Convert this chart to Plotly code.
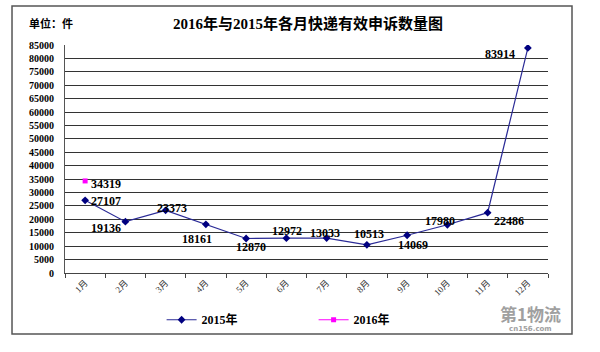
import plotly.graph_objects as go

months = ["1月", "2月", "3月", "4月", "5月", "6月", "7月", "8月", "9月", "10月", "11月", "12月"]
values_2015 = [27107, 19136, 23373, 18161, 12870, 12972, 13033, 10513, 14069, 17980, 22486, 83914]
months_2016 = ["1月"]
values_2016 = [34319]
y_ticks = list(range(0, 85001, 5000))

title_text = "2016年与2015年各月快递有效申诉数量图"
unit_text = "单位：件"

# label pixel offsets (style only)
offsets_2015 = [(21, -1), (-19, -6), (6, 2), (-9, -15), (5, -9), (1, 7),
                (-2, 5), (2, 11), (6, -10), (-7, 4), (21, -8), (-28, -6)]
offsets_2016 = [(21, -3)]

SERIF = "Liberation Serif, Times New Roman, Noto Sans CJK SC, serif"

fig = go.Figure()
fig.add_trace(go.Scatter(
    x=months, y=values_2015, name="<b>2015年</b>", mode="lines+markers",
    line=dict(color="#2a2a96", width=1.2),
    marker=dict(symbol="diamond", size=6, color="#000080"),
))
fig.add_trace(go.Scatter(
    x=months_2016, y=values_2016, name="<b>2016年</b>", mode="lines+markers",
    line=dict(color="#ff00ff", width=1.2),
    marker=dict(symbol="square", size=5, color="#ff00ff"),
))

annotations = []
for m, v, (dx, dy) in zip(months, values_2015, offsets_2015):
    annotations.append(dict(x=m, y=v, xref="x", yref="y", text="<b>%d</b>" % v, showarrow=False,
                            xshift=dx, yshift=dy,
                            font=dict(family=SERIF, size=12, color="#000000")))
for m, v, (dx, dy) in zip(months_2016, values_2016, offsets_2016):
    annotations.append(dict(x=m, y=v, xref="x", yref="y", text="<b>%d</b>" % v, showarrow=False,
                            xshift=dx, yshift=dy,
                            font=dict(family=SERIF, size=12, color="#000000")))

annotations.append(dict(x=0.504, y=1.096, xref="paper", yref="paper", text="<b>" + title_text + "</b>",
                        showarrow=False, xanchor="center", yanchor="middle",
                        font=dict(family=SERIF, size=15, color="#000000")))
annotations.append(dict(x=-0.079, y=1.096, xref="paper", yref="paper", text="<b>" + unit_text + "</b>",
                        showarrow=False, xanchor="left", yanchor="middle",
                        font=dict(family=SERIF, size=11, color="#000000")))
annotations.append(dict(x=0.963, y=-0.178, xref="paper", yref="paper",
                        text="<b>第1物流</b>", showarrow=False, xanchor="center", yanchor="middle",
                        font=dict(family="Noto Sans CJK SC", size=17, color="#a0a0a0")))
annotations.append(dict(x=0.963, y=-0.245, xref="paper", yref="paper",
                        text="<b>cn156.com</b>", showarrow=False, xanchor="center", yanchor="middle",
                        font=dict(family="DejaVu Sans", size=7, color="#a0a0a0")))

fig.update_layout(
    width=600, height=352,
    margin=dict(l=65, r=52, t=45, b=79),
    paper_bgcolor="#ffffff", plot_bgcolor="#ffffff",
    showlegend=True,
    legend=dict(orientation="h", x=0.20, y=-0.205, xanchor="left", yanchor="middle",
                entrywidth=107, entrywidthmode="pixels",
                font=dict(family=SERIF, size=12, color="#000000"),
                bgcolor="rgba(0,0,0,0)", itemclick=False),
    annotations=annotations,
    shapes=[dict(type="rect", xref="paper", yref="paper",
                 x0=-0.1097, x1=1.0497, y0=-0.2675, y1=1.171,
                 line=dict(color="#555555", width=1.5), fillcolor="rgba(0,0,0,0)", layer="below")],
    xaxis=dict(
        type="category", tickson="boundaries", range=[-0.5, 11.5],
        showgrid=False, showline=True, linecolor="#444444", linewidth=1.3,
        ticks="outside", ticklen=4, tickcolor="#444444", tickwidth=1,
        tickangle=-45, tickfont=dict(family=SERIF, size=9, color="#333333"),
        zeroline=False,
    ),
    yaxis=dict(
        range=[0, 85000], tickvals=y_ticks, ticktext=["<b>%d</b>" % t for t in y_ticks],
        showgrid=True, gridcolor="#333333", gridwidth=1.3,
        showline=True, linecolor="#555555", linewidth=1,
        ticks="", ticklabelstandoff=8,
        tickfont=dict(family=SERIF, size=10, color="#000000"),
        zeroline=False,
    ),
    font=dict(family=SERIF),
)

fig.write_html("out.html")
